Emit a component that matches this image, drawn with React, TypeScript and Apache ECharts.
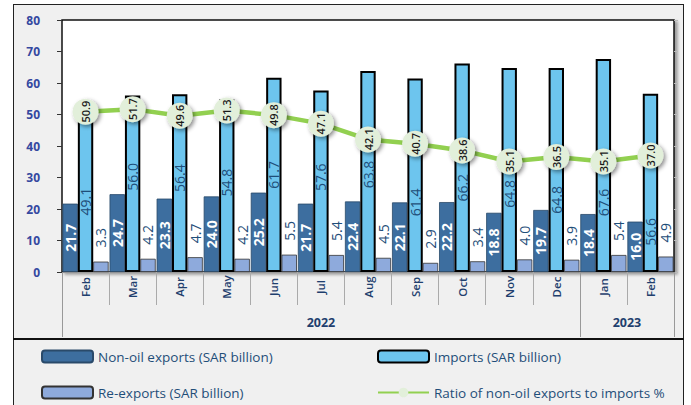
import React, { useEffect, useRef } from "react";
import * as echarts from "echarts";

const months = ["Feb", "Mar", "Apr", "May", "Jun", "Jul", "Aug", "Sep", "Oct", "Nov", "Dec", "Jan", "Feb"];
const years = ["2022", "2023"];
const yearSpans = [11, 2];

const nonOilExports = [21.7, 24.7, 23.3, 24.0, 25.2, 21.7, 22.4, 22.1, 22.2, 18.8, 19.7, 18.4, 16.0];
const imports = [49.1, 56.0, 56.4, 54.8, 61.7, 57.6, 63.8, 61.4, 66.2, 64.8, 64.8, 67.6, 56.6];
const reExports = [3.3, 4.2, 4.7, 4.2, 5.5, 5.4, 4.5, 2.9, 3.4, 4.0, 3.9, 5.4, 4.9];
const ratio = [50.9, 51.7, 49.6, 51.3, 49.8, 47.1, 42.1, 40.7, 38.6, 35.1, 36.5, 35.1, 37.0];

// style only: downward nudge (px) of the imports value labels, as placed in the original
const importsLabelNudge = [7, -7, -5, -3, 0, -4, 3, 27, 20, 24, 30, 37, 49];

const seriesNames = [
  "Non-oil exports (SAR billion)",
  "Imports (SAR billion)",
  "Re-exports (SAR billion)",
  "Ratio of non-oil exports to imports %",
];

export default function App() {
  const ref = useRef<HTMLDivElement>(null);

  useEffect(() => {
    if (!ref.current) return;
    const chart = echarts.init(ref.current, undefined, { renderer: "svg" });

    const halfSlots: string[] = new Array(months.length * 2 + 1).fill("");
    const yearEdges: number[] = [0];
    let acc = 0;
    yearSpans.forEach((s, i) => {
      halfSlots[acc * 2 + s] = years[i];
      acc += s;
      yearEdges.push(acc * 2);
    });

    const font = "Open Sans";
    const darkBlue = "#1f4e79";

    const fmt = (p: any) => Number(p.value).toFixed(1);

    const legendCommon = {
      orient: "vertical",
      top: 349,
      padding: 0,
      itemWidth: 51,
      itemHeight: 12,
      itemGap: 21,
      selectedMode: false,
      textStyle: { color: darkBlue, fontSize: 13.5, lineHeight: 15, fontFamily: font },
    };

    chart.setOption({
      animation: false,
      backgroundColor: "transparent",
      textStyle: { fontFamily: font },
      grid: {
        left: 62,
        top: 20,
        right: 17,
        bottom: 133,
        show: true,
        backgroundColor: "#ffffff",
        borderColor: "#111111",
        borderWidth: 1.5,
        shadowColor: "rgba(0,0,0,0.35)",
        shadowBlur: 3,
        shadowOffsetX: 3,
        shadowOffsetY: 2,
      },
      legend: [
        { ...legendCommon, left: 41, data: [seriesNames[0], seriesNames[2]] },
        { ...legendCommon, left: 377, data: [seriesNames[1], seriesNames[3]] },
      ],
      xAxis: [
        {
          type: "category",
          data: months,
          position: "bottom",
          boundaryGap: true,
          axisLine: { show: true, lineStyle: { color: "#999999", width: 1 } },
          axisTick: { show: true, interval: 0, alignWithLabel: false, length: 33, lineStyle: { color: "#aaaaaa", width: 1 } },
          axisLabel: {
            interval: 0,
            rotate: 90,
            align: "center",
            verticalAlign: "middle",
            margin: 15,
            color: "#1f3f6e",
            fontSize: 11.5,
            fontWeight: 600,
            fontFamily: font,
          },
          splitLine: { show: false },
        },
        {
          type: "category",
          data: halfSlots,
          position: "bottom",
          boundaryGap: false,
          axisLine: { show: false },
          axisTick: {
            show: true,
            interval: (i: number) => yearEdges.indexOf(i) >= 0,
            length: 65,
            lineStyle: { color: "#999999", width: 1 },
          },
          axisLabel: {
            interval: 0,
            margin: 44,
            color: "#1f3f6e",
            fontSize: 12.5,
            fontWeight: "bold",
            fontFamily: font,
          },
          splitLine: { show: false },
        },
      ],
      yAxis: [
        {
          type: "value",
          min: 0,
          max: 80,
          interval: 10,
          axisLine: { show: false },
          axisTick: { show: true, length: 5, lineStyle: { color: "#333333" } },
          axisLabel: { margin: 22, color: "#3448a0", fontSize: 12, fontWeight: "bold", fontFamily: font },
          splitLine: { show: false },
        },
        {
          type: "value",
          min: 0,
          max: 80,
          interval: 10,
          position: "right",
          axisLine: { show: false },
          axisTick: { show: true, length: 4, lineStyle: { color: "#bbbbbb" } },
          axisLabel: { show: false },
          splitLine: { show: false },
        },
      ],
      series: [
        {
          name: seriesNames[0],
          type: "bar",
          data: nonOilExports,
          barGap: "0%",
          barCategoryGap: "2%",
          itemStyle: { color: "#3d6e9f", borderColor: "#2a4a6a", borderWidth: 0.8 },
          label: {
            show: true,
            position: "inside",
            rotate: 90,
            color: "#ffffff",
            fontWeight: "bold",
            fontSize: 14,
            fontFamily: font,
            formatter: fmt,
          },
          z: 2,
        },
        {
          name: seriesNames[1],
          type: "bar",
          data: imports.map((v, i) => ({ value: v, label: { offset: [-importsLabelNudge[i], 0] } })),
          itemStyle: { color: "#6dc5ee", borderColor: "#000000", borderWidth: 2 },
          label: {
            show: true,
            position: "inside",
            rotate: 90,
            color: darkBlue,
            fontSize: 14,
            fontFamily: font,
            formatter: fmt,
          },
          z: 2,
        },
        {
          name: seriesNames[2],
          type: "bar",
          data: reExports,
          itemStyle: { color: "#8eaadc", borderColor: "#333333", borderWidth: 0.8 },
          label: {
            show: true,
            position: "top",
            distance: 14,
            rotate: 90,
            align: "left",
            verticalAlign: "middle",
            color: darkBlue,
            fontSize: 14,
            fontFamily: font,
            formatter: fmt,
          },
          z: 2,
        },
        {
          name: seriesNames[3],
          type: "line",
          data: ratio,
          symbol: "circle",
          symbolSize: 26,
          lineStyle: { color: "#92d050", width: 4.5 },
          itemStyle: {
            color: "#e2efda",
            borderWidth: 0,
            shadowBlur: 4,
            shadowOffsetX: 2,
            shadowOffsetY: 2,
            shadowColor: "rgba(0,0,0,0.45)",
          },
          label: {
            show: true,
            position: "inside",
            color: "#1a1a1a",
            fontSize: 11,
            fontWeight: 600,
            fontFamily: font,
            formatter: fmt,
          },
          labelLayout: { rotate: 90 },
          z: 5,
        },
      ],
    });

    return () => chart.dispose();
  }, []);

  return (
    <div style={{ position: "fixed", left: 0, top: 0, width: 691, height: 405, background: "#ffffff", overflow: "hidden" }}>
      <div
        style={{
          position: "absolute",
          left: 13,
          top: 4,
          width: 671,
          height: 420,
          boxSizing: "border-box",
          border: "1.5px solid #222222",
          background: "#f0f0f0",
        }}
      />
      <div
        style={{
          position: "absolute",
          left: 13,
          top: 338,
          width: 671,
          height: 2,
          background: "#111111",
        }}
      />
      <div ref={ref} style={{ position: "absolute", left: 0, top: 0, width: 691, height: 405 }} />
    </div>
  );
}
